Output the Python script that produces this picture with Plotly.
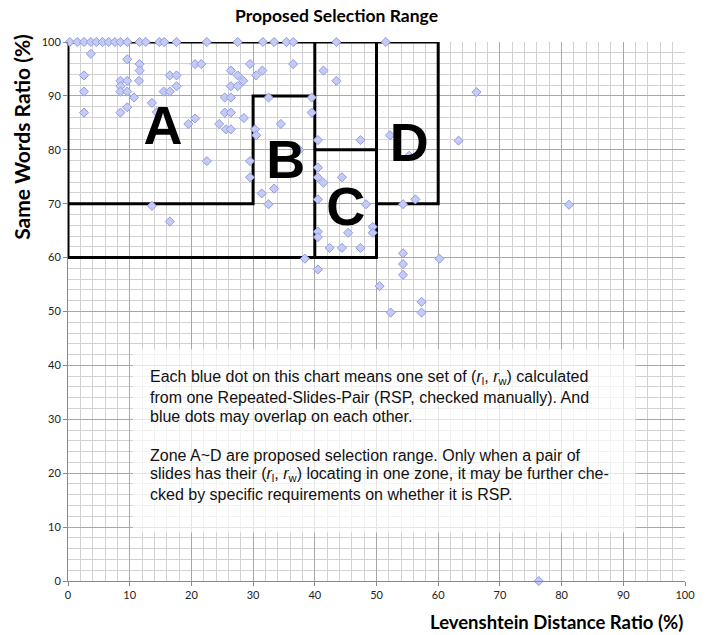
import plotly.graph_objects as go

# ---- data ----
lev_ratio = [
    0.3, 1.5, 2.6, 3.7, 4.6, 5.6, 6.6, 7.6, 8.5, 9.6, 11.6, 12.6, 14.8, 15.6, 17.6,
    22.5, 27.5, 31.6, 33.4, 35.4, 36.5, 43.5, 51.5,
    3.7, 9.6, 11.6, 11.6, 20.6, 21.6, 29.5, 36.5, 41.4, 43.5, 31.5, 30.5, 28.4,
    26.4, 27.5, 26.4, 27.5, 25.4, 26.4, 32.5, 39.5, 39.5, 25.4, 26.4, 28.5,
    2.6, 2.6, 2.6, 8.5, 9.6, 11.5, 8.5, 8.5, 9.6, 10.7, 8.5, 9.6, 13.6,
    16.5, 17.6, 15.5, 16.5, 17.6, 14.4, 19.5, 20.6, 22.5, 24.5, 25.6, 26.4,
    30.3, 30.5, 29.5, 29.5, 31.4, 33.4, 32.5, 34.5, 37.5, 40.5, 47.4, 52.2,
    55.3, 13.6, 16.5, 40.5, 40.5, 41.4, 44.4, 40.5, 48.3, 54.3, 56.3,
    40.5, 40.5, 45.4, 49.4, 49.4, 42.4, 44.4, 47.4, 38.4, 40.5, 54.3, 54.3,
    54.3, 60.2, 50.5, 57.3, 57.3, 52.3, 66.2, 63.3, 81.2, 76.3,
]
same_words_ratio = [
    100, 100, 100, 100, 100, 100, 100, 100, 100, 100, 100, 100, 100, 100, 100,
    100, 100, 100, 100, 100, 100, 100, 100,
    97.8, 96.8, 95.9, 94.7, 95.9, 95.9, 95.9, 95.9, 94.7, 92.8, 94.7, 93.8, 92.8,
    94.7, 93.8, 91.8, 91.8, 89.7, 89.7, 89.7, 89.7, 86.9, 86.9, 86.9, 85.9,
    93.8, 90.8, 86.9, 92.8, 92.8, 92.8, 91.8, 90.8, 90.8, 89.7, 86.9, 87.9, 88.7,
    93.8, 93.8, 90.8, 90.8, 91.8, 87.0, 84.8, 85.8, 77.9, 84.8, 83.8, 83.8,
    83.8, 82.7, 77.9, 74.9, 71.9, 72.8, 69.9, 84.8, 80.0, 81.8, 81.8, 82.7,
    78.9, 69.6, 66.7, 76.7, 74.9, 73.9, 74.9, 70.8, 69.9, 69.9, 70.8,
    64.8, 63.8, 64.6, 65.7, 64.6, 61.8, 61.8, 61.8, 59.8, 57.8, 60.8, 58.8,
    56.8, 59.8, 54.7, 51.8, 49.8, 49.8, 90.7, 81.7, 69.8, 0,
]

# zone boundary polylines (None separates segments)
zone_x = [0, 0, 60, 60, 50, None, 50, 50, 0, None, 40, 40, None, 40, 50, None, 0, 30, 30, 40]
zone_y = [60, 100, 100, 70, 70, None, 100, 60, 60, None, 100, 60, None, 80, 80, None, 70, 70, 90, 90]

zone_labels = ["A", "B", "C", "D"]
zone_label_x = [15.4, 35.3, 45.0, 55.3]
zone_label_y = [83.5, 77.2, 68.5, 80.5]

axis_ticks = [0, 10, 20, 30, 40, 50, 60, 70, 80, 90, 100]

title_text = "Proposed Selection Range"
x_title = "Levenshtein Distance Ratio (%)"
y_title = "Same Words Ratio (%)"
note_lines = [
    "Each blue dot on this chart means one set of (<i>r</i><sub>l</sub>, <i>r</i><sub>w</sub>) calculated",
    "from one Repeated-Slides-Pair (RSP, checked manually). And",
    "blue dots may overlap on each other.",
    "",
    "Zone A~D are proposed selection range. Only when a pair of",
    "slides has their (<i>r</i><sub>l</sub>, <i>r</i><sub>w</sub>) locating in one zone, it may be further che-",
    "cked by specific requirements on whether it is RSP.",
]

fig = go.Figure()

fig.add_trace(go.Scatter(
    x=zone_x, y=zone_y, mode="lines",
    line=dict(color="black", width=3),
    hoverinfo="skip", showlegend=False, cliponaxis=False,
))

fig.add_trace(go.Scatter(
    x=lev_ratio, y=same_words_ratio, mode="markers",
    marker=dict(symbol="diamond", size=7, color="#c5cbf5",
                line=dict(color="#8e9ce3", width=1)),
    showlegend=False, cliponaxis=False,
))

fig.add_trace(go.Scatter(
    x=zone_label_x, y=zone_label_y, mode="text", text=zone_labels,
    textfont=dict(family="Liberation Sans", size=54, color="black", weight="bold"),
    textposition="middle center", showlegend=False, hoverinfo="skip",
))

fig.add_shape(type="rect", xref="x", yref="y", x0=10.5, x1=92, y0=9, y1=43,
              fillcolor="rgba(255,255,255,0.7)", line=dict(width=0), layer="above")

# note text, one annotation per line for tight line spacing
note_x0 = 13.0
note_y0 = 37.7
note_step = 3.6
for i, line in enumerate(note_lines):
    if not line:
        continue
    fig.add_annotation(
        x=note_x0, y=note_y0 - i * note_step, xref="x", yref="y",
        xanchor="left", yanchor="middle", text=line, showarrow=False, align="left",
        font=dict(family="Liberation Sans", size=16, color="#111111"),
    )

fig.add_annotation(
    x=0.435, y=1.0, xref="paper", yref="paper", yshift=27,
    xanchor="center", yanchor="middle", text=title_text, showarrow=False,
    font=dict(family="Lato", size=17.5, color="black", weight="bold"),
)
fig.add_annotation(
    x=100, y=0, xref="x", yref="paper", yshift=-28, xanchor="right", yanchor="top",
    text=x_title, showarrow=False,
    font=dict(family="Lato", size=18.5, color="black", weight="bold"),
)
fig.add_annotation(
    x=0, y=82.4, xref="paper", yref="y", xshift=-46, xanchor="center", yanchor="middle",
    text=y_title, textangle=-90, showarrow=False,
    font=dict(family="Lato", size=21, color="black", weight="bold"),
)

axis_common = dict(
    range=[0, 100], tickvals=axis_ticks, ticks="outside", ticklen=4,
    tickcolor="#888888", showline=True, linecolor="#888888", linewidth=1,
    showgrid=True, gridcolor="#a8a8a8", gridwidth=1, zeroline=False,
    tickfont=dict(family="Lato", size=11, color="#222222"),
    minor=dict(dtick=2, showgrid=True, gridcolor="#d2d2d2", gridwidth=1),
    fixedrange=True,
)

fig.update_layout(
    width=712, height=635,
    margin=dict(l=68, r=27, t=42, b=54),
    paper_bgcolor="white", plot_bgcolor="white",
    xaxis=dict(**axis_common),
    yaxis=dict(**axis_common),
    showlegend=False,
)

fig.write_html("out.html", config={"displayModeBar": False},
               post_script="document.body.style.margin='0';")
